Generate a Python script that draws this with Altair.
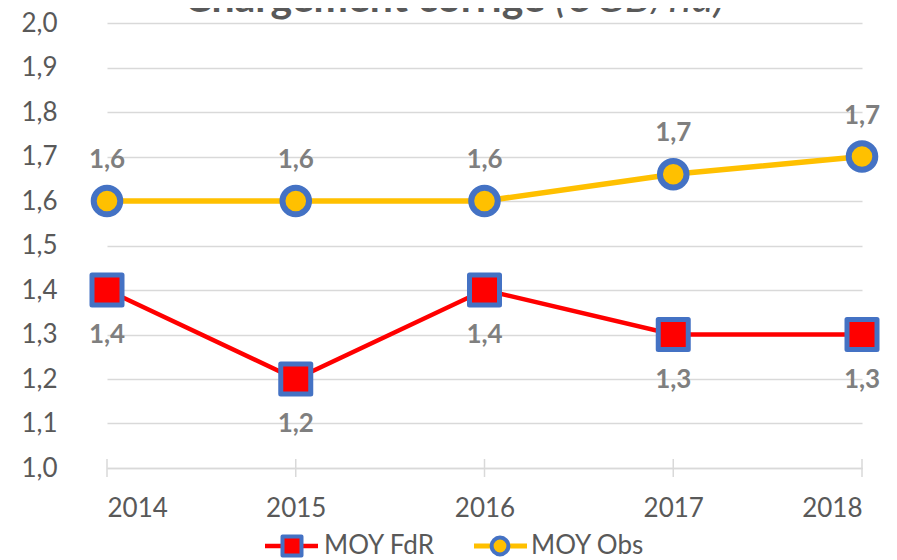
import altair as alt
import pandas as pd

# ---- data ----
years = [2014, 2015, 2016, 2017, 2018]
moy_fdr = [1.4, 1.2, 1.4, 1.3, 1.3]
moy_obs = [1.6, 1.6, 1.6, 1.66, 1.7]
series_names = ["MOY FdR", "MOY Obs"]
y_ticks = [1.0, 1.1, 1.2, 1.3, 1.4, 1.5, 1.6, 1.7, 1.8, 1.9, 2.0]
title_main = "Chargement corrigé"
title_unit = "(UGB/ha)"

def lab(v):
    return f"{v:.1f}".replace(".", ",")

df = pd.DataFrame(
    {
        "year": years * 2,
        "value": moy_fdr + moy_obs,
        "series": [series_names[0]] * len(years) + [series_names[1]] * len(years),
    }
)
df["label"] = df["value"].map(lab)

FONT = "Lato"
TXT = "#595959"
LBL = "#7f7f7f"
GRID = "#d9d9d9"
BLUE = "#4472C4"
RED = "#FF0000"
YEL = "#FFC000"

W, H = 755, 445

x_enc = alt.X(
    "year:Q",
    scale=alt.Scale(domain=[years[0], years[-1]], nice=False, zero=False),
    axis=alt.Axis(
        values=years,
        format="d",
        title=None,
        grid=False,
        ticks=False,
        tickSize=0,
        domain=True,
        domainColor=GRID,
        domainWidth=1.5,
        labelFont=FONT,
        labelFontSize=26,
        labelColor=TXT,
        labelPadding=27,
    ),
)
y_enc = alt.Y(
    "value:Q",
    scale=alt.Scale(domain=[1.0, 2.0], nice=False, zero=False),
    axis=alt.Axis(
        values=y_ticks,
        labelExpr="replace(format(datum.value, '.1f'), '.', ',')",
        title=None,
        grid=True,
        gridColor=GRID,
        gridWidth=1.5,
        domain=False,
        ticks=False,
        tickSize=0,
        labelFont=FONT,
        labelFontSize=26,
        labelColor=TXT,
        labelPadding=50,
    ),
)

base = alt.Chart(df)
fdr = base.transform_filter(alt.datum.series == series_names[0])
obs = base.transform_filter(alt.datum.series == series_names[1])

ticks = alt.Chart(pd.DataFrame({"year": years})).mark_rule(
    color=GRID, strokeWidth=1.5
).encode(x=alt.X("year:Q"), y=alt.value(H - 9), y2=alt.value(H + 9))

line_fdr = fdr.mark_line(color=RED, strokeWidth=4.5).encode(x=x_enc, y=y_enc)
line_obs = obs.mark_line(color=YEL, strokeWidth=5.5).encode(x="year:Q", y="value:Q")

pt_fdr = fdr.mark_point(
    shape="square", size=900, filled=True, fill=RED, stroke=BLUE,
    strokeWidth=5, strokeJoin="round", opacity=1,
).encode(x="year:Q", y="value:Q")
pt_obs = obs.mark_point(
    shape="circle", size=707, filled=True, fill=YEL, stroke=BLUE,
    strokeWidth=6, opacity=1,
).encode(x="year:Q", y="value:Q")

txt_fdr = fdr.mark_text(
    dy=45, font=FONT, fontSize=26, fontWeight="bold", color=LBL, baseline="middle"
).encode(x="year:Q", y="value:Q", text="label:N")
txt_obs = obs.mark_text(
    dy=-41, font=FONT, fontSize=26, fontWeight="bold", color=LBL, baseline="middle"
).encode(x="year:Q", y="value:Q", text="label:N")

# title (cut off at the top, as in the reference)
t_main = alt.Chart(pd.DataFrame({"t": [title_main]})).mark_text(
    font=FONT, fontSize=41, fontWeight="bold", color=TXT, align="right", baseline="alphabetic"
).encode(text="t:N", x=alt.value(438), y=alt.value(-11))
t_unit = alt.Chart(pd.DataFrame({"t": [title_unit]})).mark_text(
    font=FONT, fontSize=43, fontStyle="italic", color=TXT, align="left", baseline="alphabetic"
).encode(text="t:N", x=alt.value(448), y=alt.value(-11))

# manual legend
LY = 523
one = pd.DataFrame({"a": [0]})
leg_line_fdr = alt.Chart(one).mark_rule(color=RED, strokeWidth=4.5).encode(
    x=alt.value(158), x2=alt.value(211), y=alt.value(LY)
)
leg_pt_fdr = alt.Chart(one).mark_point(
    shape="square", size=361, filled=True, fill=RED, stroke=BLUE, strokeWidth=4,
    strokeJoin="round", opacity=1,
).encode(x=alt.value(185), y=alt.value(LY))
leg_txt_fdr = alt.Chart(pd.DataFrame({"t": [series_names[0]]})).mark_text(
    font=FONT, fontSize=26, color=TXT, align="left", baseline="middle"
).encode(text="t:N", x=alt.value(217), y=alt.value(LY))
leg_line_obs = alt.Chart(one).mark_rule(color=YEL, strokeWidth=5).encode(
    x=alt.value(367), x2=alt.value(420), y=alt.value(LY)
)
leg_pt_obs = alt.Chart(one).mark_point(
    shape="circle", size=283, filled=True, fill=YEL, stroke=BLUE, strokeWidth=4, opacity=1,
).encode(x=alt.value(393), y=alt.value(LY))
leg_txt_obs = alt.Chart(pd.DataFrame({"t": [series_names[1]]})).mark_text(
    font=FONT, fontSize=26, color=TXT, align="left", baseline="middle"
).encode(text="t:N", x=alt.value(424), y=alt.value(LY))

chart = (
    alt.layer(
        line_fdr, ticks, line_obs, pt_fdr, pt_obs, txt_fdr, txt_obs,
        t_main, t_unit,
        leg_line_fdr, leg_pt_fdr, leg_txt_fdr, leg_line_obs, leg_pt_obs, leg_txt_obs,
    )
    .properties(
        width=W,
        height=H,
        padding={"left": 99, "top": 15, "right": 27, "bottom": 92},
        autosize=alt.AutoSizeParams(type="none"),
        background="white",
    )
    .configure_view(stroke=None)
)

chart.save("out.html", embed_options={"renderer": "svg", "actions": False})
